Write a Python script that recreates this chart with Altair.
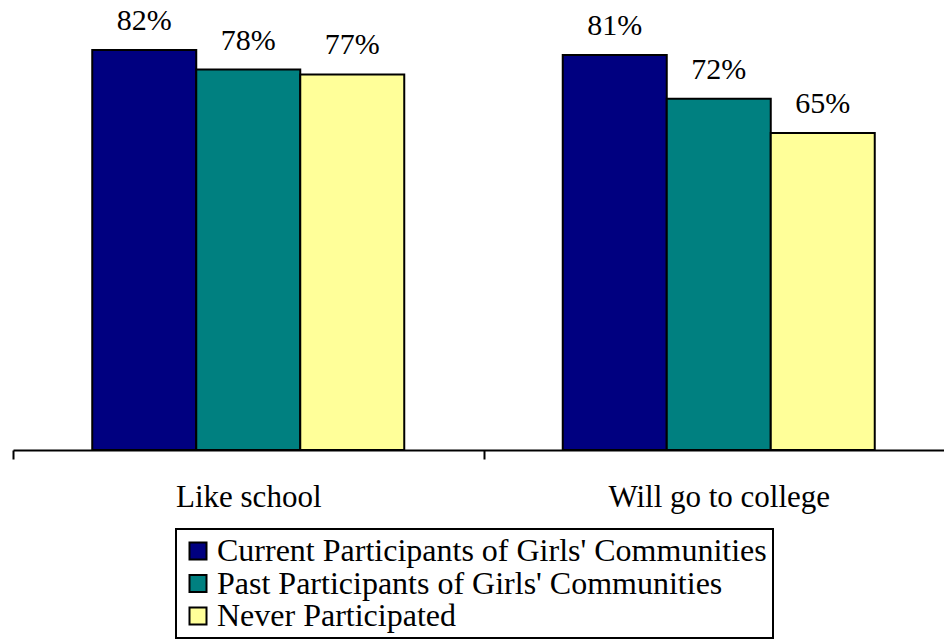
import altair as alt
import pandas as pd

# Survey results: share of girls agreeing with each statement, by participation group
groups = ["Like school", "Will go to college"]
series = [
    "Current Participants of Girls' Communities",
    "Past Participants of Girls' Communities",
    "Never Participated",
]
current = [82, 81]
past = [78, 72]
never = [77, 65]
colors = ["#000080", "#008080", "#FFFF99"]

rows = []
for name, vals in zip(series, [current, past, never]):
    for g, v in zip(groups, vals):
        rows.append({"group": g, "series": name, "value": v, "label": f"{v}%"})
df = pd.DataFrame(rows)

FONT = "Liberation Serif"
half_band = 941 / 4  # shift ticks to band edges, keep labels centred

x = alt.X(
    "group:N",
    sort=groups,
    scale=alt.Scale(range=[0, 941], paddingInner=0, paddingOuter=0),
    axis=alt.Axis(
        title=None,
        labelAngle=0,
        labelFont=FONT,
        labelFontSize=31,
        labelColor="black",
        labelPadding=23,
        labelBaseline="top",
        labelLimit=0,
        tickOffset=-half_band,
        labelOffset=half_band,
        tickSize=9,
        tickWidth=2,
        tickColor="black",
        domainColor="black",
        domainWidth=2,
        grid=False,
    ),
)
x_off = alt.XOffset(
    "series:N",
    sort=series,
    scale=alt.Scale(paddingInner=0, paddingOuter=0.762),
)
y = alt.Y("value:Q", scale=alt.Scale(domain=[0, 92.25], nice=False, zero=True), axis=None)

base = alt.Chart(df).encode(x=x, xOffset=x_off, y=y)

bars = base.mark_bar(stroke="black", strokeWidth=2).encode(
    color=alt.Color(
        "series:N",
        sort=series,
        scale=alt.Scale(domain=series, range=colors),
        legend=alt.Legend(
            title=None,
            orient="none",
            legendX=163,
            legendY=529,
            direction="vertical",
            strokeColor="black",
            padding=6,
            symbolType="square",
            symbolSize=289,
            symbolStrokeColor="black",
            symbolStrokeWidth=2,
            symbolOpacity=1,
            labelFont=FONT,
            labelFontSize=32,
            labelColor="black",
            labelOffset=3,
            labelLimit=0,
            rowPadding=0.5,
        ),
    )
)

labels = base.mark_text(
    font=FONT, fontSize=30, color="black", baseline="alphabetic", dy=-20
).encode(text="label:N")

chart = (
    alt.layer(bars, labels)
    .properties(
        width=931,
        height=450,
        autosize=alt.AutoSizeParams(type="none"),
        padding={"left": 13, "top": 0, "right": 0, "bottom": 190},
    )
    .configure_view(stroke=None)
    .configure_legend(strokeWidth=2)
)

chart.save("out.html", embed_options={"renderer": "svg", "actions": False})
